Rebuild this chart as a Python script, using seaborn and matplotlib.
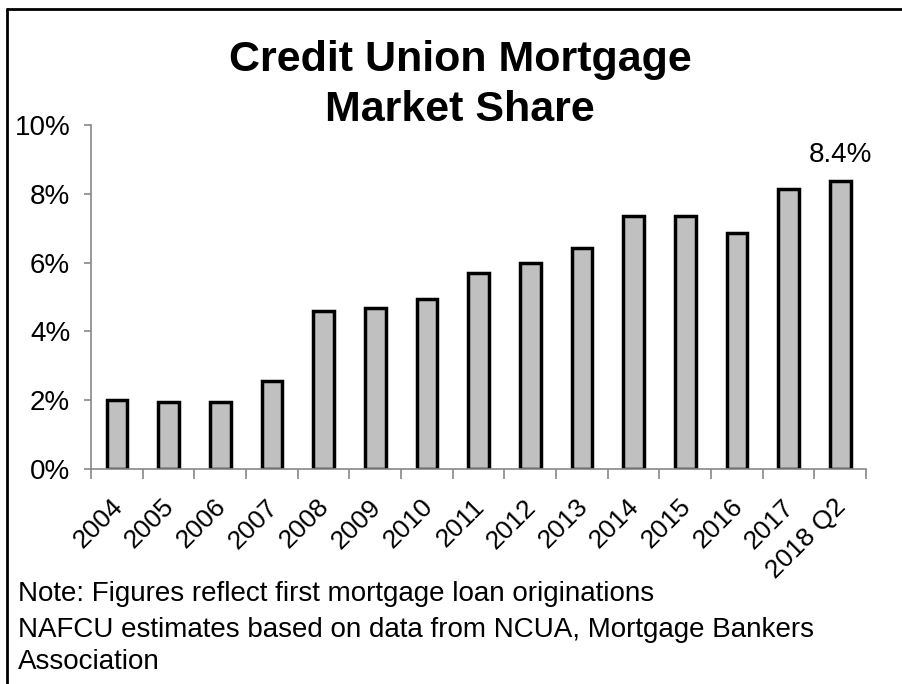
import seaborn as sns
import matplotlib.pyplot as plt
import matplotlib.ticker as mticker
import matplotlib.transforms as mtrans
from matplotlib.lines import Line2D
import numpy as np

years = ['2004', '2005', '2006', '2007', '2008', '2009', '2010', '2011',
         '2012', '2013', '2014', '2015', '2016', '2017', '2018 Q2']
share = [2.0, 1.94, 1.94, 2.57, 4.60, 4.69, 4.94, 5.69,
         5.98, 6.43, 7.35, 7.35, 6.87, 8.14, 8.36]
last_label = '8.4%'

sns.set_style('white')
plt.rcParams['font.family'] = ['Liberation Sans', 'DejaVu Sans']
plt.rcParams['text.color'] = 'black'
plt.rcParams['xtick.color'] = 'black'
plt.rcParams['ytick.color'] = 'black'

fig = plt.figure(figsize=(9.02, 6.84), dpi=100)
ax = fig.add_axes([0.1009, 0.3143, 0.8592, 0.5030])

sns.barplot(x=years, y=share, ax=ax, color='#c0c0c0', saturation=1,
            edgecolor='black', linewidth=2.5, width=0.4)

ax.set_ylim(0, 10)
ax.set_xlim(-0.5, len(years) - 0.5)
ax.yaxis.set_major_locator(mticker.MultipleLocator(2))
ax.yaxis.set_major_formatter(mticker.FuncFormatter(lambda v, p: '%d%%' % v))
ax.tick_params(axis='y', labelsize=20, left=True, length=5, color='#888888',
               labelcolor='black', width=1.2, pad=10)

# tick marks between the categories, labels under the bars
ax.set_xticks(np.arange(-0.5, len(years)), minor=True)
ax.tick_params(axis='x', which='minor', bottom=True, length=7,
               color='#888888', width=1.2)
ax.tick_params(axis='x', which='major', bottom=False, labelsize=19, pad=21,
               labelcolor='black')
ax.set_xticks(range(len(years)))
ax.set_xticklabels(years, rotation=45, ha='right', va='center',
                   rotation_mode='anchor')
for lab in ax.get_xticklabels():
    lab.set_transform(lab.get_transform() +
                      mtrans.ScaledTranslation(0.02, 0.0, fig.dpi_scale_trans))

for s in ['top', 'right']:
    ax.spines[s].set_visible(False)
for s in ['left', 'bottom']:
    ax.spines[s].set_color('#888888')
    ax.spines[s].set_linewidth(1.2)

ax.text(len(years) - 1, share[-1] + 0.4, last_label, ha='center',
        va='bottom', fontsize=20)

fig.text(0.51, 0.8756, 'Credit Union Mortgage\nMarket Share', ha='center',
         va='center', fontsize=31, fontweight='bold', linespacing=1.31)

fig.text(0.02, 0.131, 'Note: Figures reflect first mortgage loan originations',
         fontsize=20, va='center')
fig.text(0.02, 0.079, 'NAFCU estimates based on data from NCUA, Mortgage Bankers',
         fontsize=20, va='center')
fig.text(0.02, 0.032, 'Association', fontsize=20, va='center')

# frame lines along the top and left edge
fig.add_artist(Line2D([0.0075, 1.0], [0.987, 0.987], color='black', lw=2))
fig.add_artist(Line2D([0.0075, 0.0075], [0.0, 0.987], color='black', lw=2))

fig.savefig('out.png', dpi=100)
